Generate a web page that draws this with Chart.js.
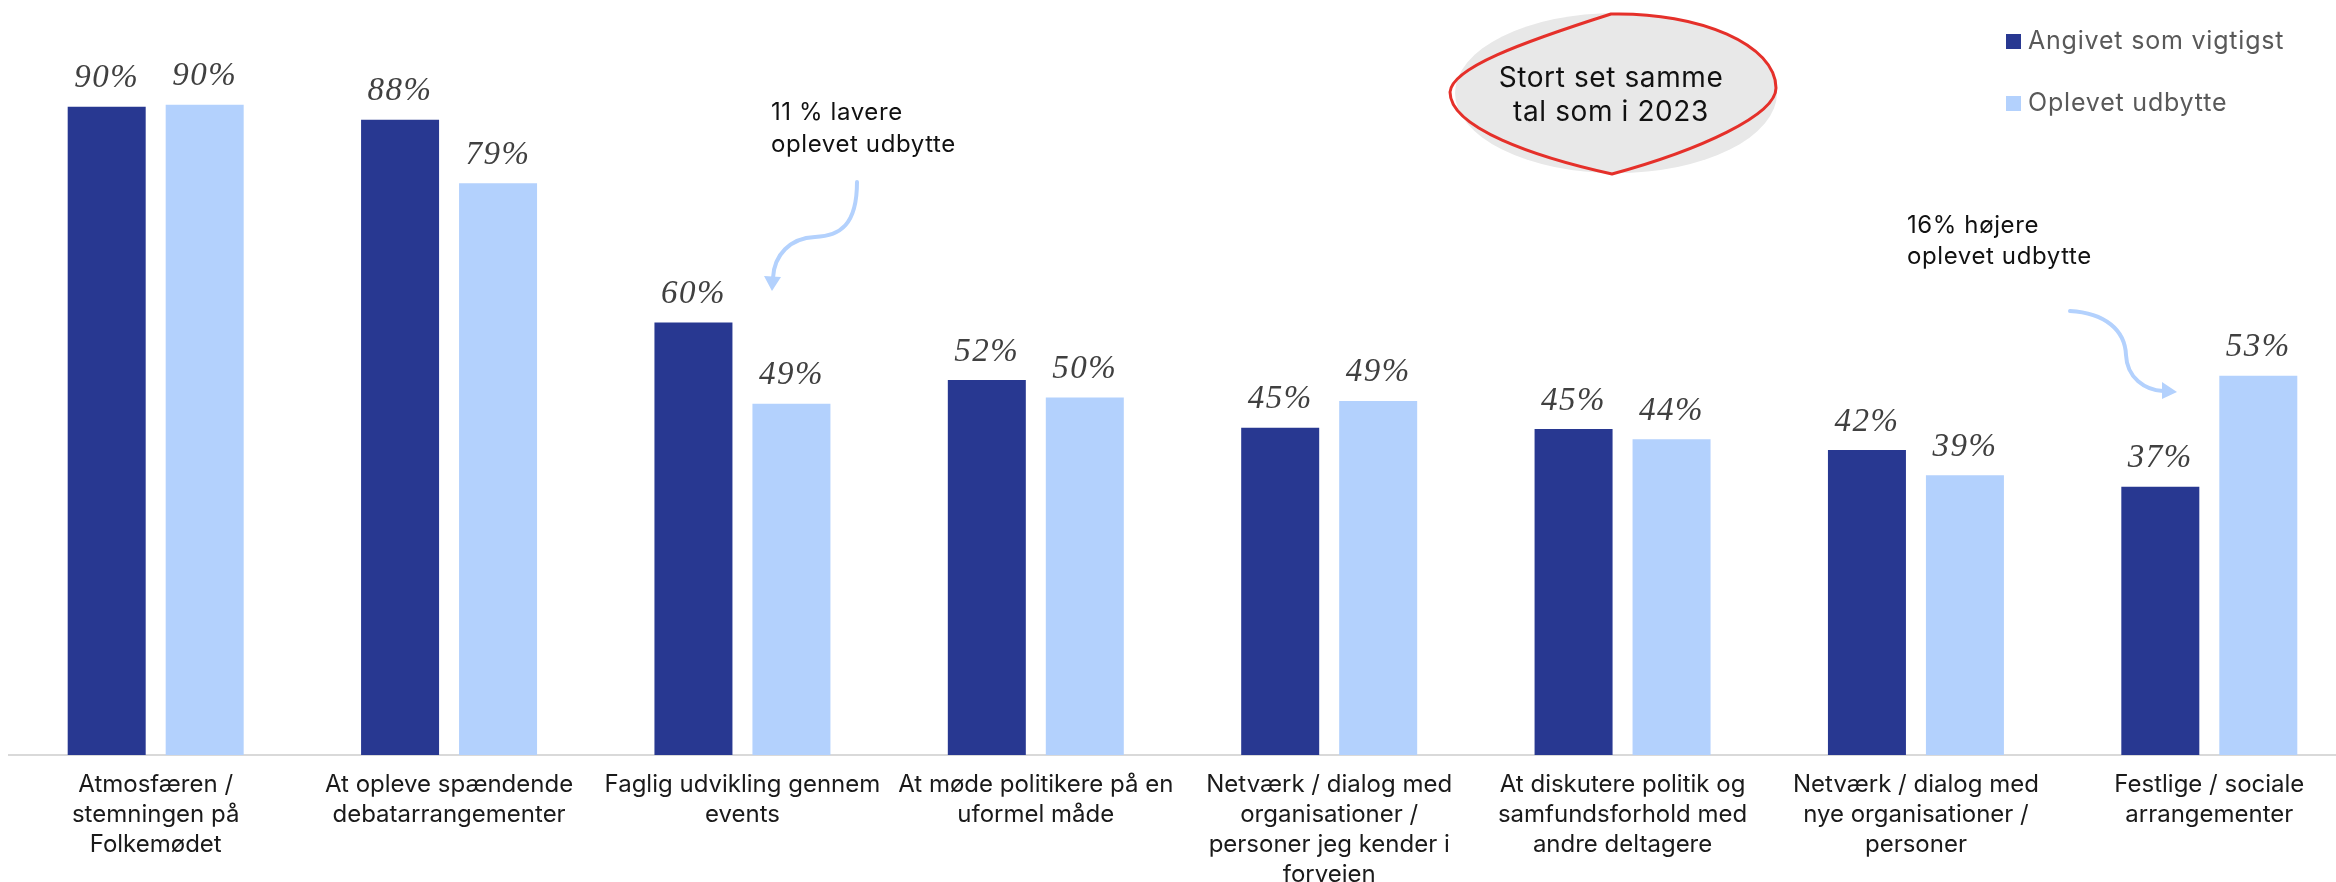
<!DOCTYPE html>
<html><head><meta charset="utf-8">
<script src="https://cdn.jsdelivr.net/npm/chart.js@4.4.1/dist/chart.umd.min.js"></script>
<style>
html,body{margin:0;padding:0;background:#fff;overflow:hidden;width:2336px;height:882px}
#wrap{position:absolute;left:0;top:0;width:2356px;height:882px}
</style></head><body>
<div id="wrap"><canvas id="c" width="2356" height="882"></canvas></div>
<script>
const categories = [
  ["Atmosfæren /", "stemningen på", "Folkemødet"],
  ["At opleve spændende", "debatarrangementer"],
  ["Faglig udvikling gennem", "events"],
  ["At møde politikere på en", "uformel måde"],
  ["Netværk / dialog med", "organisationer /", "personer jeg kender i", "forvejen"],
  ["At diskutere politik og", "samfundsforhold med", "andre deltagere"],
  ["Netværk / dialog med", "nye organisationer /", "personer"],
  ["Festlige / sociale", "arrangementer"]
];
const seriesNames = ["Angivet som vigtigst", "Oplevet udbytte"];
const angivet = [89.9, 88.1, 60.0, 52.0, 45.4, 45.2, 42.3, 37.2];
const oplevet = [90.2, 79.3, 48.7, 49.6, 49.1, 43.8, 38.8, 52.6];
const seriesColors = ["#283891", "#b3d1fd"];

const FONT = "Inter, 'Work Sans', 'Open Sans', sans-serif";

const dataLabels = {
  id: 'dataLabels',
  afterDatasetsDraw(chart) {
    const ctx = chart.ctx;
    ctx.save();
    ctx.font = "italic 33px 'Liberation Serif', serif";
    try { ctx.letterSpacing = '1.5px'; } catch (e) {}
    ctx.fillStyle = '#404040';
    ctx.textAlign = 'center';
    ctx.textBaseline = 'alphabetic';
    chart.data.datasets.forEach((ds, di) => {
      chart.getDatasetMeta(di).data.forEach((bar, i) => {
        ctx.fillText(Math.round(ds.data[i]) + '%', bar.x, bar.y - 19.5);
      });
    });
    ctx.restore();
  }
};

function arrow(ctx, pathFn, tip, b1, b2) {
  ctx.save();
  ctx.strokeStyle = '#b3d1fd';
  ctx.fillStyle = '#b3d1fd';
  ctx.lineWidth = 4;
  ctx.lineCap = 'round';
  ctx.beginPath();
  pathFn(ctx);
  ctx.stroke();
  ctx.beginPath();
  ctx.moveTo(tip[0], tip[1]);
  ctx.lineTo(b1[0], b1[1]);
  ctx.lineTo(b2[0], b2[1]);
  ctx.closePath();
  ctx.fill();
  ctx.restore();
}

const decorations = {
  id: 'decorations',
  afterDraw(chart) {
    const ctx = chart.ctx;
    ctx.save();
    // legend
    ctx.font = "25px " + FONT;
    try { ctx.letterSpacing = '0.8px'; } catch (e) {}
    ctx.textAlign = 'left';
    ctx.textBaseline = 'alphabetic';
    const legY = [34, 96];
    seriesNames.forEach((n, i) => {
      ctx.fillStyle = seriesColors[i];
      ctx.fillRect(2006, legY[i], 15, 15);
      ctx.fillStyle = '#595959';
      ctx.fillText(n, 2028, legY[i] + 15);
    });
    // bubble
    ctx.fillStyle = '#e8e8e8';
    ctx.beginPath();
    ctx.ellipse(1616, 93, 161, 80, 0, 0, Math.PI * 2);
    ctx.fill();
    ctx.strokeStyle = '#e5302a';
    ctx.lineWidth = 3;
    ctx.beginPath();
    ctx.moveTo(1450, 92);
    ctx.bezierCurveTo(1452, 68, 1520, 43, 1611, 14);
    ctx.bezierCurveTo(1700, 12, 1776, 45, 1776, 88);
    ctx.bezierCurveTo(1776, 115, 1700, 150, 1612, 174);
    ctx.bezierCurveTo(1535, 157, 1450, 128, 1450, 92);
    ctx.closePath();
    ctx.stroke();
    ctx.fillStyle = '#111111';
    ctx.textAlign = 'center';
    ctx.font = "28px " + FONT;
    try { ctx.letterSpacing = '0.6px'; } catch (e) {}
    ctx.fillText("Stort set samme", 1611, 87);
    ctx.fillText("tal som i 2023", 1611, 121);
    // annotations
    ctx.textAlign = 'left';
    ctx.font = "24px " + FONT;
    try { ctx.letterSpacing = '0.6px'; } catch (e) {}
    ctx.fillText("11 % lavere", 771, 120);
    ctx.fillText("oplevet udbytte", 771, 152);
    ctx.fillText("16% højere", 1907, 233);
    ctx.fillText("oplevet udbytte", 1907, 264);
    ctx.restore();
    arrow(ctx, c => { c.moveTo(857, 182); c.bezierCurveTo(857, 225, 840, 236, 815, 237); c.bezierCurveTo(790, 238, 774, 255, 773, 278); },
      [772, 291], [764, 276], [781, 277]);
    arrow(ctx, c => { c.moveTo(2070, 311); c.bezierCurveTo(2105, 313, 2125, 330, 2126, 355); c.bezierCurveTo(2127, 378, 2145, 390, 2163, 391); },
      [2177, 392], [2162, 382], [2162, 399]);
  }
};

new Chart(document.getElementById('c'), {
  type: 'bar',
  data: {
    labels: categories,
    datasets: [
      { label: seriesNames[0], data: angivet, backgroundColor: seriesColors[0], barPercentage: 0.796, categoryPercentage: 0.668 },
      { label: seriesNames[1], data: oplevet, backgroundColor: seriesColors[1], barPercentage: 0.796, categoryPercentage: 0.668 }
    ]
  },
  options: {
    responsive: false,
    animation: false,
    devicePixelRatio: 1,
    layout: { padding: { left: 9, right: 0, top: 34, bottom: 0 } },
    plugins: { legend: { display: false }, tooltip: { enabled: false } },
    scales: {
      x: {
        grid: { display: false },
        border: { display: true, color: '#d9d9d9', width: 2 },
        ticks: { color: '#1a1a1a', font: { family: FONT, size: 24, lineHeight: 1.25 }, padding: 7, maxRotation: 0, minRotation: 0, autoSkip: false },
        afterFit(s) { s.height = 127; }
      },
      y: { display: false, min: 0, max: 100 }
    }
  },
  plugins: [dataLabels, decorations]
});
</script>
</body></html>
